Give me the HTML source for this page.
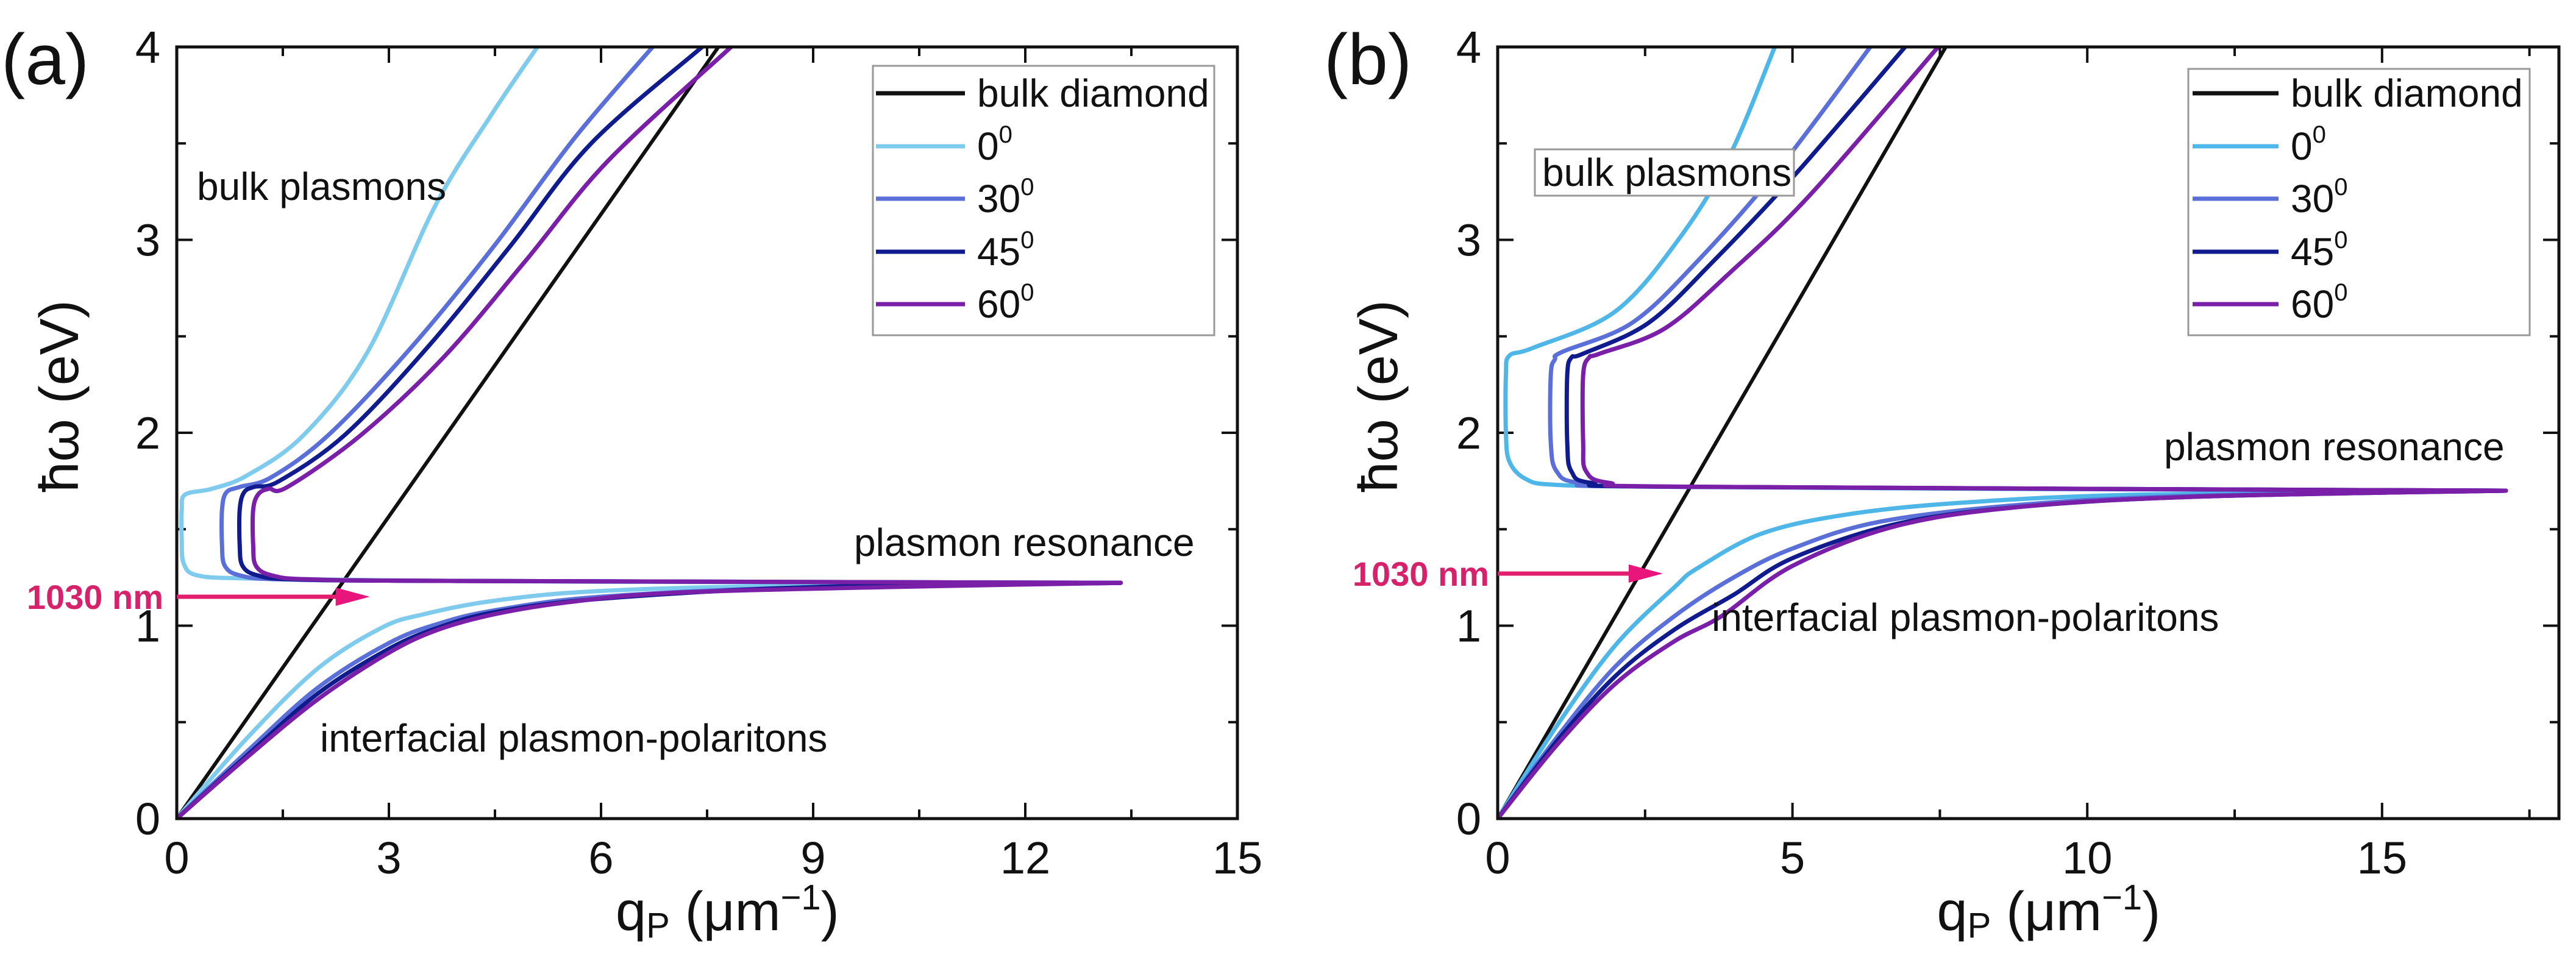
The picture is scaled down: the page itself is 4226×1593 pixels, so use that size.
<!DOCTYPE html>
<html><head><meta charset="utf-8"><style>
html,body{margin:0;padding:0;background:#fff}
svg{display:block}
text{font-family:"Liberation Sans",Arial,sans-serif;fill:#111}
</style></head><body>
<svg id="fig" width="4226" height="1593" viewBox="0 0 4226 1593" xmlns="http://www.w3.org/2000/svg"></svg>
<script>
// ---------- Panel A data ----------
const aLegend = ["bulk diamond","0","30","45","60"];
const aXTicks = [0,3,6,9,12,15];
const aYTicks = [0,1,2,3,4];
const aBulk = [[0,0],[7.66,4]];
const aUp0 = [[13.35,1.222],[6,1.228],[3,1.235],[1,1.245],[0.3,1.26],[0.1,1.32],[0.07,1.45],[0.07,1.6],[0.12,1.68],[0.5,1.71],[1.0,1.78],[1.8,1.99],[2.7,2.42],[3.66,3.18],[4.47,3.66],[5.1,4.0]];
const aUp30 = [[13.35,1.222],[4,1.232],[1.5,1.24],[0.9,1.26],[0.68,1.31],[0.64,1.42],[0.64,1.6],[0.7,1.69],[0.9,1.72],[1.34,1.77],[2.15,1.99],[3.31,2.44],[4.47,2.96],[5.63,3.53],[6.73,4.0]];
const aUp45 = [[13.35,1.222],[4,1.232],[1.7,1.24],[1.15,1.26],[0.93,1.31],[0.89,1.42],[0.89,1.6],[0.95,1.69],[1.1,1.72],[1.45,1.75],[2.38,1.99],[3.54,2.44],[4.7,2.96],[5.86,3.5],[7.43,4.0]];
const aUp60 = [[13.35,1.222],[4,1.232],[1.9,1.24],[1.35,1.26],[1.12,1.31],[1.08,1.42],[1.08,1.6],[1.15,1.68],[1.3,1.71],[1.57,1.72],[2.61,1.99],[3.77,2.39],[4.93,2.89],[6.1,3.41],[7.84,4.0]];
const aLo0 = [[0,0],[1,0.42],[2,0.78],[2.9,0.99],[3.5,1.06],[4.5,1.13],[6,1.18],[9,1.21],[13.35,1.222]];
const aLo30 = [[0,0],[1,0.35],[2,0.68],[3,0.91],[3.7,1.01],[4.5,1.08],[6,1.15],[9,1.2],[13.35,1.222]];
const aLo45 = [[0,0],[1,0.33],[2,0.65],[3,0.88],[3.7,0.99],[4.5,1.07],[6,1.14],[9,1.2],[13.35,1.222]];
const aLo60 = [[0,0],[1,0.32],[2,0.62],[3,0.86],[3.7,0.98],[4.5,1.06],[5.5,1.12],[7,1.17],[10,1.2],[13.35,1.222]];
const aArrow = [[0,1.15],[2.73,1.15]];
// ---------- Panel B data ----------
const bXTicks = [0,5,10,15];
const bYTicks = [0,1,2,3,4];
const bBulk = [[0,0],[7.6,4]];
const bUp0 = [[17.1,1.70],[8,1.71],[3,1.72],[1,1.73],[0.48,1.76],[0.2,1.85],[0.14,2.0],[0.14,2.3],[0.2,2.40],[0.6,2.44],[2.0,2.63],[3.11,3.02],[3.94,3.44],[4.7,4.0]];
const bUp30 = [[17.1,1.70],[3,1.72],[1.4,1.74],[1.0,1.8],[0.9,1.95],[0.9,2.3],[0.97,2.38],[1.1,2.42],[2.28,2.57],[3.39,2.89],[4.77,3.37],[6.32,4.0]];
const bUp45 = [[17.1,1.70],[3.2,1.72],[1.6,1.74],[1.25,1.8],[1.18,1.95],[1.18,2.3],[1.25,2.39],[1.45,2.41],[2.56,2.57],[3.66,2.89],[5.05,3.34],[6.91,4.0]];
const bUp60 = [[17.1,1.70],[3.4,1.72],[1.9,1.74],[1.5,1.8],[1.45,1.95],[1.45,2.3],[1.55,2.39],[1.73,2.41],[2.83,2.54],[3.94,2.83],[5.32,3.24],[7.47,4.0]];
const bLo0 = [[0,0],[1,0.48],[2,0.9],[3,1.2],[3.4,1.3],[4.5,1.48],[6,1.58],[8,1.64],[11,1.68],[17.1,1.70]];
const bLo30 = [[0,0],[1,0.42],[2,0.79],[3,1.05],[4,1.25],[5,1.4],[6.5,1.54],[9,1.63],[12,1.675],[17.1,1.70]];
const bLo45 = [[0,0],[1,0.4],[2,0.74],[3,0.98],[4,1.16],[5,1.35],[6.8,1.53],[9,1.62],[12,1.67],[17.1,1.70]];
const bLo60 = [[0,0],[1,0.38],[2,0.7],[3,0.92],[3.8,1.05],[5,1.31],[6.8,1.52],[9,1.62],[12,1.67],[17.1,1.70]];
const bArrow = [[0,1.27],[2.8,1.27]];

const NS="http://www.w3.org/2000/svg";
const svg=document.getElementById('fig');
function mk(tag,attrs,parent){const e=document.createElementNS(NS,tag);for(const k in attrs)e.setAttribute(k,attrs[k]);(parent||svg).appendChild(e);return e;}
function txt(str,x,y,size,anchor,parent,extra){const t=mk('text',Object.assign({x:x,y:y,'font-size':size,'text-anchor':anchor||'start'},extra||{}),parent);t.textContent=str;return t;}
function smooth(pts){
  if(pts.length<3){return 'M'+pts.map(p=>p[0].toFixed(1)+','+p[1].toFixed(1)).join('L');}
  let d='M'+pts[0][0].toFixed(1)+','+pts[0][1].toFixed(1);
  for(let i=0;i<pts.length-1;i++){
    const p0=pts[Math.max(0,i-1)],p1=pts[i],p2=pts[i+1],p3=pts[Math.min(pts.length-1,i+2)];
    const c1=[p1[0]+(p2[0]-p0[0])/6,p1[1]+(p2[1]-p0[1])/6];
    const c2=[p2[0]-(p3[0]-p1[0])/6,p2[1]-(p3[1]-p1[1])/6];
    d+='C'+c1[0].toFixed(1)+','+c1[1].toFixed(1)+' '+c2[0].toFixed(1)+','+c2[1].toFixed(1)+' '+p2[0].toFixed(1)+','+p2[1].toFixed(1);
  }
  return d;
}

function panel(cfg){
  const g=mk('g',{});
  
  
  const X0=cfg.x0,X1=cfg.x1,Y0=1343,Y1=77;
  const sx=v=>X0+(v-cfg.xmin)/(cfg.xmax-cfg.xmin)*(X1-X0);
  const sy=v=>Y0-(v-0)/(4-0)*(Y0-Y1);
  const clip=mk('clipPath',{id:'clip-'+cfg.id},g);
  mk('rect',{x:X0,y:Y1,width:X1-X0,height:Y0-Y1},clip);
  const lg=mk('g',{},g);
  
  
  mk('rect',{x:cfg.leg[0],y:cfg.leg[1],width:cfg.leg[2],height:cfg.leg[3],fill:'#fff',stroke:'#999',"stroke-width":3},lg);
  const tg=mk('g',{stroke:'#111','stroke-width':4},g);
  
  
  const xt=cfg.xticks, step=xt[1]-xt[0];
  for(let v=cfg.xmin;v<=cfg.xmax+1e-6;v+=step/2){
    const major=xt.some(t=>Math.abs(t-v)<1e-6);const L=major?26:15;
    mk('line',{x1:sx(v),y1:Y0,x2:sx(v),y2:Y0-L},tg);
    mk('line',{x1:sx(v),y1:Y1,x2:sx(v),y2:Y1+L},tg);
  }
  for(let v=0;v<=4+1e-6;v+=0.5){
    const major=cfg.yticks.some(t=>Math.abs(t-v)<1e-6);const L=major?26:15;
    mk('line',{x1:X0,y1:sy(v),x2:X0+L,y2:sy(v)},tg);
    mk('line',{x1:X1,y1:sy(v),x2:X1-L,y2:sy(v)},tg);
  }
  cfg.xticks.forEach(v=>{const t=txt(String(v),sx(v),1433,74,'middle',g);});
  cfg.yticks.forEach(v=>{const t=txt(String(v),X0-27,sy(v)+26,74,'end',g);});
  const sg=mk('g',{'clip-path':'url(#clip-'+cfg.id+')',fill:'none','stroke-linejoin':'round','stroke-linecap':'round'},g);
  const bulk=mk('path',{d:smooth(cfg.bulk.map(p=>[sx(p[0]),sy(p[1])])),stroke:'#111','stroke-width':6},sg);
  
  
  cfg.series.forEach((s,i)=>{
    const pl=mk('path',{d:smooth(s.lo.map(p=>[sx(p[0]),sy(p[1])])),stroke:cfg.colors[i],'stroke-width':7},sg);
    
    
    const pu=mk('path',{d:smooth(s.up.map(p=>[sx(p[0]),sy(p[1])])),stroke:cfg.colors[i],'stroke-width':7},sg);
    
    
  });
  const fr=mk('rect',{x:X0,y:Y1,width:X1-X0,height:Y0-Y1,fill:'none',stroke:'#111','stroke-width':5},g);
  
  
  const ay=sy(cfg.arrow[0][1]);const ax1=sx(cfg.arrow[1][0]);
  const ar=mk('g',{},g);
  
  
  mk('line',{x1:sx(cfg.arrow[0][0]),y1:ay,x2:ax1-40,y2:ay,stroke:'#e0206e','stroke-width':7},ar);
  mk('polygon',{points:(ax1)+','+ay+' '+(ax1-56)+','+(ay-15)+' '+(ax1-56)+','+(ay+15),fill:'#e8157a'},ar);
  const nm=txt('1030 nm',cfg.nmx,ay+20,56,'end',g,{'font-weight':'bold',fill:'#d6226b',style:'fill:#d6226b'});
  
  
  cfg.legendY.forEach((y,i)=>{
    const eg=mk('g',{},lg);
    
    
    mk('line',{x1:cfg.legLine[0],y1:y,x2:cfg.legLine[1],y2:y,stroke:i===0?'#111':cfg.colors[i-1],'stroke-width':7},eg);
    const t=txt(aLegend[i],cfg.legLine[1]+20,y+22,64,'start',eg);
    if(i>0){const sp=mk('tspan',{dy:-28,'font-size':40},t);sp.textContent='0';}
  });
  const yt=mk('text',{x:0,y:0,'font-size':90,'text-anchor':'middle',transform:'translate('+cfg.ytx+',650) rotate(-90)'},g);
  yt.textContent='ħω (eV)';
  
  
  const xtt=txt('q',(X0+X1)/2-150,1526,90,'start',g);
  const s1=mk('tspan',{'font-size':58,dy:12},xtt);s1.textContent='P';
  const s2=mk('tspan',{dy:-12},xtt);s2.textContent=' (μm';
  const s3=mk('tspan',{'font-size':58,dy:-34},xtt);s3.textContent='−1';
  const s4=mk('tspan',{dy:34},xtt);s4.textContent=')';
  
  
  const pl=txt(cfg.label,cfg.labx,138,118,'start',g);
  
  
  cfg.annots.forEach(a=>{
    if(a.box){mk('rect',{x:a.box[0],y:a.box[1],width:a.box[2],height:a.box[3],fill:'#fff',stroke:'#999','stroke-width':3},g);}
    const t=txt(a.t,a.x,a.y,64,'start',g);
    
    
  });
}

panel({id:'panel-a',label:'(a)',labx:2,x0:290,x1:2030,xmin:0,xmax:15,xticks:aXTicks,yticks:aYTicks,
  bulk:aBulk,colors:['#7fcbee','#5b6fd8','#101c8e','#7a1fa8'],
  series:[{name:'0deg',up:aUp0,lo:aLo0},{name:'30deg',up:aUp30,lo:aLo30},{name:'45deg',up:aUp45,lo:aLo45},{name:'60deg',up:aUp60,lo:aLo60}],
  arrow:aArrow,nmx:268,leg:[1432,108,560,442],legendY:[153,240,326,413,499],legLine:[1437,1583],ytx:128,
  annots:[{t:'bulk plasmons',x:323,y:328,n:'bulk-plasmons-label'},{t:'plasmon resonance',x:1401,y:912,n:'plasmon-resonance-label'},{t:'interfacial plasmon-polaritons',x:525,y:1233,n:'interfacial-label'}]});
panel({id:'panel-b',label:'(b)',labx:2172,x0:2457,x1:4198,xmin:0,xmax:18,xticks:bXTicks,yticks:bYTicks,
  bulk:bBulk,colors:['#4fb6e8','#5b6fd8','#101c8e','#7a1fa8'],
  series:[{name:'0deg',up:bUp0,lo:bLo0},{name:'30deg',up:bUp30,lo:bLo30},{name:'45deg',up:bUp45,lo:bLo45},{name:'60deg',up:bUp60,lo:bLo60}],
  arrow:bArrow,nmx:2443,leg:[3590,113,560,437],legendY:[153,240,326,413,499],legLine:[3597,3738],ytx:2292,
  annots:[{t:'bulk plasmons',x:2530,y:305,n:'bulk-plasmons-label',box:[2518,245,425,76]},{t:'plasmon resonance',x:3550,y:755,n:'plasmon-resonance-label'},{t:'interfacial plasmon-polaritons',x:2808,y:1035,n:'interfacial-label'}]});
</script>
</body></html>
